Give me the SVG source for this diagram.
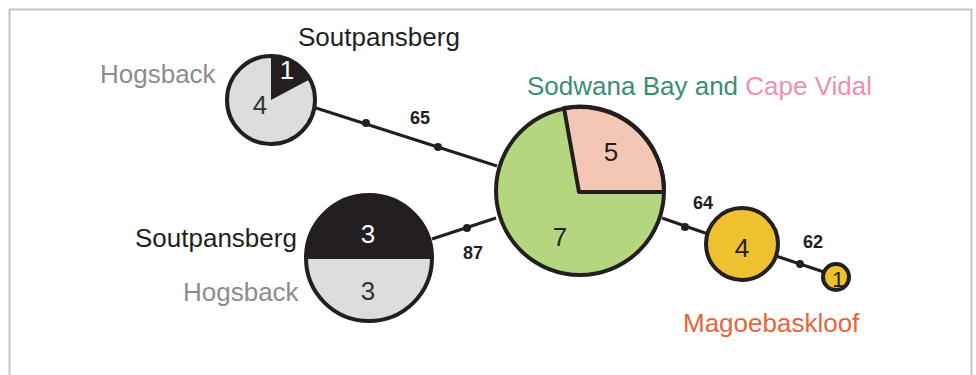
<svg xmlns="http://www.w3.org/2000/svg" width="976" height="375" viewBox="0 0 976 375">
<style>
.lbl{font-family:"Liberation Sans",Arial,sans-serif;font-size:26px}
.num{font-family:"Liberation Sans",Arial,sans-serif;font-size:26px;text-anchor:middle}
.el{font-family:"Liberation Sans",Arial,sans-serif;font-size:18px;font-weight:bold;fill:#231f20;text-anchor:middle}
.ol{stroke:#231f20;stroke-width:4;stroke-linejoin:round}
.cn{stroke:#231f20;stroke-width:3;fill:none}
.dot{fill:#231f20}
</style>
<rect width="976" height="375" fill="#fff"/>
<path d="M9.5,375 V9.5 H971.5 V375" fill="none" stroke="#c4c4c4" stroke-width="2"/>
<g id="connectors">
<line class="cn" x1="316" y1="108" x2="497" y2="166"/>
<circle class="dot" cx="366" cy="123" r="4"/>
<circle class="dot" cx="438" cy="147" r="4"/>
<line class="cn" x1="432" y1="239" x2="496" y2="218"/>
<circle class="dot" cx="467" cy="228" r="4"/>
<line class="cn" x1="662" y1="218" x2="708" y2="234"/>
<circle class="dot" cx="685" cy="227" r="4"/>
<line class="cn" x1="776" y1="256" x2="824" y2="272"/>
<circle class="dot" cx="800" cy="264" r="4"/>
<text class="el" x="420" y="124">65</text>
<text class="el" x="473" y="259">87</text>
<text class="el" x="703" y="209">64</text>
<text class="el" x="813" y="248">62</text>
</g>
<g id="node-hogsback-soutpansberg-1">
<circle cx="271" cy="100" r="44" fill="#dcdddd"/>
<path d="M271,100 L271,56 A44,44 0 0 1 309.9,79.3 Z" fill="#231f20"/>
<circle class="ol" cx="271" cy="100" r="44" fill="none"/>
<text class="num" x="287" y="79" fill="#fff">1</text>
<text class="num" x="260" y="114" fill="#333">4</text>
<text class="lbl" x="298" y="46" fill="#231f20">Soutpansberg</text>
<text class="lbl" x="100" y="83" fill="#8c8c8c">Hogsback</text>
</g>
<g id="node-hogsback-soutpansberg-2">
<circle cx="369" cy="258" r="63" fill="#dcdddd"/>
<path d="M306,259 A63,63 0 0 1 432,259 Z" fill="#231f20"/>
<circle class="ol" cx="369" cy="258" r="63" fill="none"/>
<text class="num" x="368" y="243" fill="#fff">3</text>
<text class="num" x="368" y="300" fill="#333">3</text>
<text class="lbl" x="135" y="247" fill="#231f20">Soutpansberg</text>
<text class="lbl" x="183" y="301" fill="#8c8c8c">Hogsback</text>
</g>
<g id="node-sodwana-cape">
<circle cx="580" cy="191" r="84" fill="#b4d67e"/>
<path class="ol" d="M579,192 L564,108 A84,84 0 0 1 664,192 Z" fill="#f4c6b5"/>
<circle class="ol" cx="580" cy="191" r="84" fill="none"/>
<text class="num" x="611" y="161" fill="#231f20">5</text>
<text class="num" x="560" y="246" fill="#231f20">7</text>
<text class="lbl" x="527" y="95"><tspan fill="#3a8f70">Sodwana Bay and </tspan><tspan fill="#ee90b2">Cape Vidal</tspan></text>
</g>
<g id="node-magoebaskloof-4">
<circle class="ol" cx="742" cy="244" r="36" fill="#efc12f"/>
<text class="num" x="742" y="257" fill="#231f20">4</text>
<text class="lbl" x="683" y="332" fill="#e8643a">Magoebaskloof</text>
</g>
<g id="node-magoebaskloof-1">
<circle class="ol" cx="836" cy="277" r="13" fill="#efc12f"/>
<text class="num" x="838" y="287" fill="#231f20" style="font-size:22px">1</text>
</g>
</svg>
